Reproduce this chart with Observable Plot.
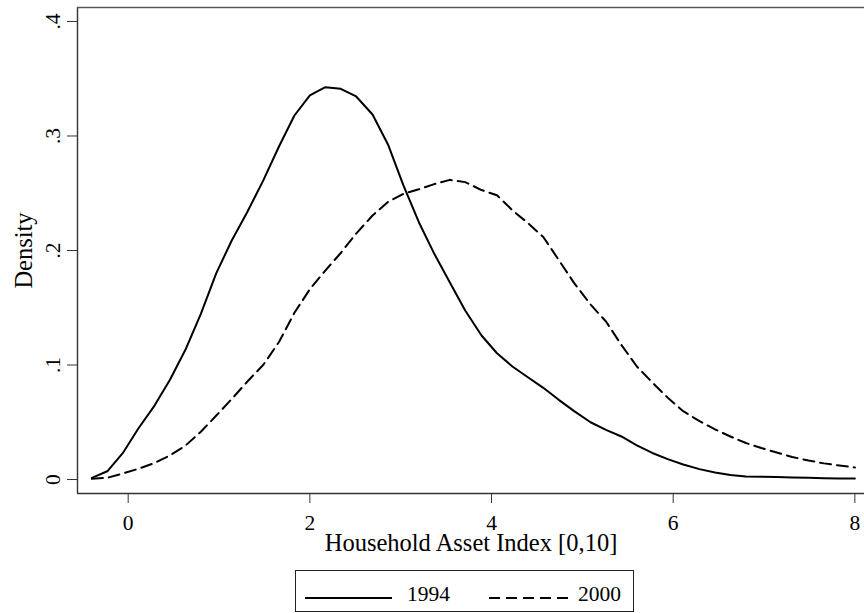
<!DOCTYPE html>
<html>
<head>
<meta charset="utf-8">
<script src="https://cdn.jsdelivr.net/npm/d3@7"></script>
<script src="https://cdn.jsdelivr.net/npm/@observablehq/plot@0.6"></script>
<style>
  html, body { margin: 0; padding: 0; background: #fff; }
  #wrap { position: relative; width: 864px; height: 613px; font-family: "Liberation Serif", "Times New Roman", serif; }
  #legend { position: absolute; left: 295px; top: 570px; width: 339px; height: 42px; box-sizing: border-box; border: 1px solid #222; background: #fff; }
</style>
</head>
<body>
<div id="wrap">
  <div id="chart"></div>
  <div id="legend"></div>
</div>
<script>
// Evaluation grid (Household Asset Index)
const assetIndex = [-0.40,-0.23,-0.06,0.11,0.29,0.46,0.63,0.80,0.97,1.14,1.31,1.49,1.66,1.83,2.00,2.17,2.34,2.51,2.69,2.86,3.03,3.20,3.37,3.54,3.71,3.89,4.06,4.23,4.40,4.57,4.74,4.91,5.09,5.26,5.43,5.60,5.77,5.94,6.11,6.29,6.46,6.63,6.80,6.97,7.14,7.31,7.49,7.66,7.83,8.00];
// Kernel density, 1994
const density1994 = [0.0015,0.0072,0.0230,0.0443,0.0646,0.0871,0.1133,0.1447,0.1802,0.2087,0.2334,0.2617,0.2908,0.3179,0.3354,0.3426,0.3412,0.3345,0.3188,0.2926,0.2568,0.2247,0.1971,0.1723,0.1476,0.1258,0.1103,0.0987,0.0893,0.0801,0.0696,0.0597,0.0500,0.0434,0.0376,0.0299,0.0232,0.0178,0.0131,0.0091,0.0062,0.0039,0.0027,0.0024,0.0021,0.0017,0.0015,0.0012,0.0010,0.0009];
// Kernel density, 2000
const density2000 = [0.0006,0.0015,0.0053,0.0093,0.0144,0.0210,0.0296,0.0417,0.0559,0.0703,0.0854,0.1004,0.1201,0.1456,0.1662,0.1825,0.1978,0.2148,0.2306,0.2424,0.2495,0.2535,0.2580,0.2617,0.2597,0.2528,0.2482,0.2351,0.2240,0.2118,0.1917,0.1715,0.1528,0.1380,0.1175,0.0987,0.0848,0.0714,0.0597,0.0510,0.0438,0.0376,0.0319,0.0275,0.0236,0.0197,0.0166,0.0141,0.0122,0.0105];

const seriesNames = ["1994", "2000"];
const xTicks = [0, 2, 4, 6, 8];
const yTicks = [0, 0.1, 0.2, 0.3, 0.4];
const yTickLabels = ["0", ".1", ".2", ".3", ".4"];
const xLabel = "Household Asset Index [0,10]";
const yLabel = "Density";

const xDomain = [-0.558, 8.106];
const yDomain = [-0.0122, 0.4122];

const rows1994 = assetIndex.map((x, i) => ({x, density: density1994[i], year: seriesNames[0]}));
const rows2000 = assetIndex.map((x, i) => ({x, density: density2000[i], year: seriesNames[1]}));
const yTickRows = yTicks.map((v, i) => ({v, label: yTickLabels[i]}));

const font = "Liberation Serif, Times New Roman, serif";

const chart = Plot.plot({
  width: 864,
  height: 566,
  marginLeft: 77,
  marginRight: 0,
  marginTop: 7,
  marginBottom: 73,
  style: {fontFamily: font, fontSize: "21.5px", color: "#000", background: "#fff"},
  x: {domain: xDomain},
  y: {domain: yDomain},
  marks: [
    Plot.ruleX([xDomain[0]], {stroke: "#333", strokeWidth: 1.4}),
    Plot.ruleY([yDomain[0]], {stroke: "#333", strokeWidth: 1.4}),
    Plot.ruleY([yDomain[1]], {stroke: "#555", strokeWidth: 1.4}),
    Plot.axisX({ticks: xTicks, tickSize: 10, tickPadding: 11, label: null, stroke: "#333", fill: "#000", fontSize: 21.5}),
    Plot.axisY({ticks: yTicks, tickSize: 10, tickFormat: () => "", label: null, stroke: "#333"}),
    Plot.text(yTickRows, {y: "v", text: "label", frameAnchor: "left", dx: -24, rotate: -90, fontSize: 21.5, fill: "#000", textAnchor: "middle", lineAnchor: "middle"}),
    Plot.text([yLabel], {text: d => d, frameAnchor: "left", dx: -53, rotate: -90, fontSize: 24.5, fill: "#000", textAnchor: "middle", lineAnchor: "middle"}),
    Plot.text([xLabel], {text: d => d, frameAnchor: "bottom", dy: 57, fontSize: 24.5, fill: "#000", textAnchor: "middle", lineAnchor: "bottom"}),
    Plot.line(rows1994, {x: "x", y: "density", stroke: "#000", strokeWidth: 2, strokeLinejoin: "round"}),
    Plot.line(rows2000, {x: "x", y: "density", stroke: "#000", strokeWidth: 2, strokeDasharray: "11,6"})
  ]
});
document.getElementById("chart").appendChild(chart);

// Legend
const lg = d3.select("#legend").append("svg").attr("width", 337).attr("height", 40)
  .style("font-family", font).style("font-size", "21.5px");
const items = [
  {name: seriesNames[0], x0: 9, x1: 96, tx: 111, dash: null},
  {name: seriesNames[1], x0: 193, x1: 277, tx: 282, dash: "11,6"}
];
items.forEach(it => {
  lg.append("line").attr("x1", it.x0).attr("x2", it.x1).attr("y1", 27).attr("y2", 27)
    .attr("stroke", "#000").attr("stroke-width", 2).attr("stroke-dasharray", it.dash);
  lg.append("text").attr("x", it.tx).attr("y", 30).attr("fill", "#000").text(it.name);
});
</script>
</body>
</html>
